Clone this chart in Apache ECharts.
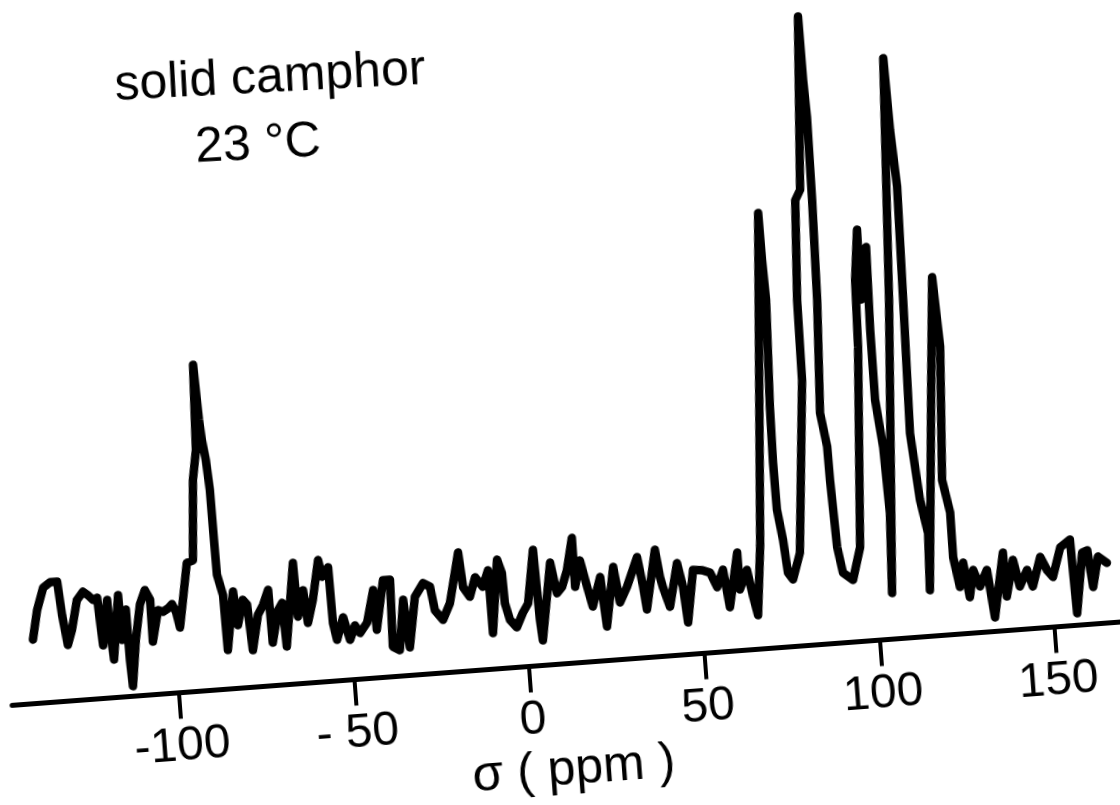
<!DOCTYPE html>
<html>
<head>
<meta charset="utf-8">
<script src="https://cdn.jsdelivr.net/npm/echarts@6/dist/echarts.min.js"></script>
<style>
  html, body { margin: 0; padding: 0; width: 1120px; height: 805px; overflow: hidden; background: #fff; }
  #chart {
    position: absolute; left: 0; top: -50px; width: 1200px; height: 950px;
    transform-origin: 529px 716.5px; transform: rotate(-4.3deg);
  }
</style>
</head>
<body>
<div id="chart"></div>
<script>
// chemical shift sigma (ppm)
const shiftPpm = [
  -140.2,-138.4,-136.2,-134.1,-132.1,-131.4,-130.4,-128.9,-126.9,-125.0,
  -123.6,-122.3,-121.1,-120.8,-120.4,-118.3,-118.1,-117.6,-115.1,-114.9,
  -113.2,-113.1,-112.8,-111.0,-109.1,-107.4,-106.1,-106.2,-104.1,-102.7,
  -101.2,-100.0,-99.0,-98.2,-96.8,-94.9,-93.1,-91.4,-89.9,-88.9,
  -88.4,-88.0,-87.3,-86.8,-86.7,-86.6,-85.3,-85.1,-82.4,-81.7,
  -79.8,-78.7,-78.0,-75.8,-74.2,-72.4,-72.2,-70.0,-68.7,-68.3,
  -64.8,-64.5,-62.5,-61.8,-59.9,-57.6,-56.8,-54.9,-54.7,-53.9,
  -51.7,-50.2,-48.5,-47.2,-45.0,-42.6,-42.4,-39.6,-37.6,-38.2,
  -36.3,-34.3,-33.4,-30.9,-28.3,-26.4,-25.5,-23.4,-21.1,-17.7,
  -17.0,-15.3,-13.4,-11.4,-9.6,-9.5,-6.8,-5.7,-5.5,-4.4,
  -2.6,-0.6,1.1,3.6,4.1,4.5,8.2,9.5,11.1,12.8,
  14.9,14.8,16.7,18.2,19.4,22.1,23.0,26.0,27.2,29.5,
  33.0,34.1,34.7,38.2,39.1,39.7,41.3,44.2,45.4,46.1,
  48.6,51.2,53.4,55.1,57.1,58.3,61.5,61.5,63.9,65.1,
  66.1,68.2,74.7,74.8,75.1,73.9,73.6,73.7,74.8,75.5,
  76.8,79.3,83.6,83.9,85.5,87.1,90.2,90.3,90.6,90.3,
  89.6,88.0,89.3,89.4,90.0,91.1,93.8,96.5,100.2,100.8,
  102.4,102.0,104.6,104.0,103.9,105.2,105.7,104.6,110.0,113.5,
  113.9,114.7,114.0,113.1,114.5,116.1,115.4,119.8,122.7,123.5,
  121.2,122.8,122.7,124.0,125.4,126.6,128.1,129.7,132.0,133.3,
  136.9,137.1,139.6,141.0,143.4,144.7,147.4,149.1,150.6,153.3,
  156.2,156.7,159.4,160.9,161.8,163.8,166.2
];
// signal intensity (arbitrary units)
const intensity = [
  64,93,115,120,120,86,56,71,100,108,
  104,99,101,79,53,98,70,38,102,57,
  87,36,10,56,91,105,95,53,84,82,
  85,89,81,65,92,129,131,211,241,326,
  271,250,230,200,150,115,94,39,97,63,
  88,83,37,72,81,96,43,75,82,38,
  121,67,93,60,83,122,105,114,58,41,
  63,40,54,46,56,88,48,97,97,30,
  26,76,28,78,91,87,63,53,69,119,
  84,74,93,83,99,36,109,95,65,48,
  40,54,63,116,46,25,102,71,77,93,
  125,76,102,75,55,84,34,93,57,72,
  101,71,48,107,79,69,49,92,68,32,
  84,83,80,65,82,44,98,61,80,53,
  34,104,435,388,348,241,185,138,107,74,
  67,93,265,345,445,455,628,564,527,444,
  344,231,197,163,96,70,62,94,294,361,
  411,341,393,310,240,192,126,46,339,580,
  508,451,337,204,137,103,46,236,358,288,
  155,122,77,47,71,36,63,46,62,14,
  78,34,70,43,59,42,71,57,50,79,
  86,12,72,74,37,67,60
];
const tickValues = [-100, -50, 0, 50, 100, 150];
const tickLabels = ['-100', '- 50', '0', '50', '100', '150'];
const titleText = 'solid camphor';
const subtitleText = '23 °C';
const axisTitle = 'σ ( ppm )';

const data = shiftPpm.map((p, i) => [p, intensity[i]]);

const chart = echarts.init(document.getElementById('chart'), null, { renderer: 'canvas' });
chart.setOption({
  animation: false,
  backgroundColor: 'transparent',
  grid: { left: 10.7, right: 66.6, top: 16.5, bottom: 233.5, containLabel: false, outerBoundsMode: 'none' },
  xAxis: {
    type: 'value',
    min: -147.5,
    max: 172,
    axisLine: { show: true, onZero: false, lineStyle: { color: '#000', width: 5, cap: 'round' } },
    axisTick: { show: true, inside: false, length: 26, customValues: tickValues, lineStyle: { color: '#000', width: 4 } },
    axisLabel: {
      show: true,
      customValues: tickValues,
      margin: 30,
      color: '#000',
      fontSize: 48,
      fontFamily: 'Liberation Sans',
      formatter: function (v) {
        const i = tickValues.indexOf(v);
        return i >= 0 ? tickLabels[i] : '';
      }
    },
    splitLine: { show: false }
  },
  yAxis: {
    type: 'value', min: 0, max: 700, show: false,
    splitLine: { show: false }
  },
  graphic: [
    { type: 'text', x: 314.8, y: 110.3, rotation: -0.0227,
      style: { text: titleText, font: '50px "Liberation Sans"', fill: '#000', textAlign: 'center', textVerticalAlign: 'middle' } },
    { type: 'text', x: 297.9, y: 176.2, rotation: -0.0227,
      style: { text: subtitleText, font: '50px "Liberation Sans"', fill: '#000', textAlign: 'center', textVerticalAlign: 'middle' } },
    { type: 'text', x: 566, y: 823,
      style: { text: axisTitle, font: '50px "Liberation Sans"', fill: '#000', textAlign: 'center', textVerticalAlign: 'middle' } }
  ],
  series: [{
    type: 'line',
    data: data,
    showSymbol: false,
    symbol: 'none',
    clip: false,
    lineStyle: { color: '#000', width: 8.5, join: 'round', cap: 'round' }
  }]
});
</script>
</body>
</html>
